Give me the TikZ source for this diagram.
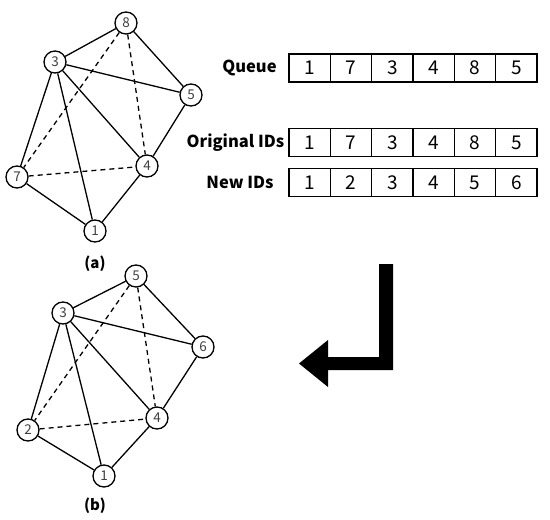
\documentclass[tikz,border=0pt]{standalone}
\usepackage{fontspec}
\setmainfont{Noto Sans CJK JP}
\begin{document}
\begin{tikzpicture}[x=1pt,y=-1pt,
  vnode/.style={circle,draw,line width=1.3pt,minimum size=22pt,inner sep=0pt,fill=white,font=\fontsize{13.5}{13.5}\selectfont,text=black!75},
  edge/.style={line width=1.3pt},
  dedge/.style={line width=1.3pt,dash pattern=on 5pt off 4pt},
  cell/.style={rectangle,draw,line width=1.1pt,minimum width=41.33pt,minimum height=28pt,inner sep=0pt,font=\fontsize{19}{19}\selectfont},
  lbl/.style={font=\fontsize{16.5}{16.5}\selectfont\bfseries},
  captext/.style={font=\fontsize{15}{15}\selectfont\bfseries}
]
\useasboundingbox (0,0) rectangle (550,520);
% graph (a)
\node[vnode] (a8) at (126,23) {8};
\node[vnode] (a3) at (55,62) {3};
\node[vnode] (a5) at (191,95) {5};
\node[vnode] (a4) at (147,166) {4};
\node[vnode] (a7) at (17,177) {7};
\node[vnode] (a1) at (95,231) {1};
\draw[edge] (a8)--(a3) (a8)--(a5) (a3)--(a5) (a3)--(a7) (a3)--(a1) (a3)--(a4) (a5)--(a4) (a4)--(a1) (a7)--(a1);
\draw[dedge] (a8)--(a7) (a8)--(a4) (a7)--(a4);
\node[captext] (capa) at (95,264) {(a)};
% graph (b)
\node[vnode] (b5) at (136,276) {5};
\node[vnode] (b3) at (63,313) {3};
\node[vnode] (b6) at (203,347) {6};
\node[vnode] (b4) at (157,418) {4};
\node[vnode] (b2) at (28,430) {2};
\node[vnode] (b1) at (104,476) {1};
\draw[edge] (b5)--(b3) (b5)--(b6) (b3)--(b6) (b3)--(b2) (b3)--(b1) (b3)--(b4) (b6)--(b4) (b4)--(b1) (b2)--(b1);
\draw[dedge] (b5)--(b2) (b5)--(b4) (b2)--(b4);
\node[captext] (capb) at (95,506) {(b)};
% tables
\foreach \v [count=\i] in {1,7,3,4,8,5} \node[cell] (q\i) at ({289+41.33*(\i-0.5)},68) {\v};
\foreach \v [count=\i] in {1,7,3,4,8,5} \node[cell] (o\i) at ({289+41.33*(\i-0.5)},142.5) {\v};
\foreach \v [count=\i] in {1,2,3,4,5,6} \node[cell] (n\i) at ({289+41.33*(\i-0.5)},182.5) {\v};
\node[lbl] (ql) at (249.5,68) {Queue};
\node[lbl] (ol) at (235.5,142.5) {Original IDs};
\node[lbl] (nl) at (240,182.5) {New IDs};
% arrow
\fill (379,264) -- (393,264) -- (393,370) -- (328,370) -- (328,387) -- (299,363.5) -- (328,340) -- (328,357) -- (379,357) -- cycle;
\end{tikzpicture}
\end{document}
